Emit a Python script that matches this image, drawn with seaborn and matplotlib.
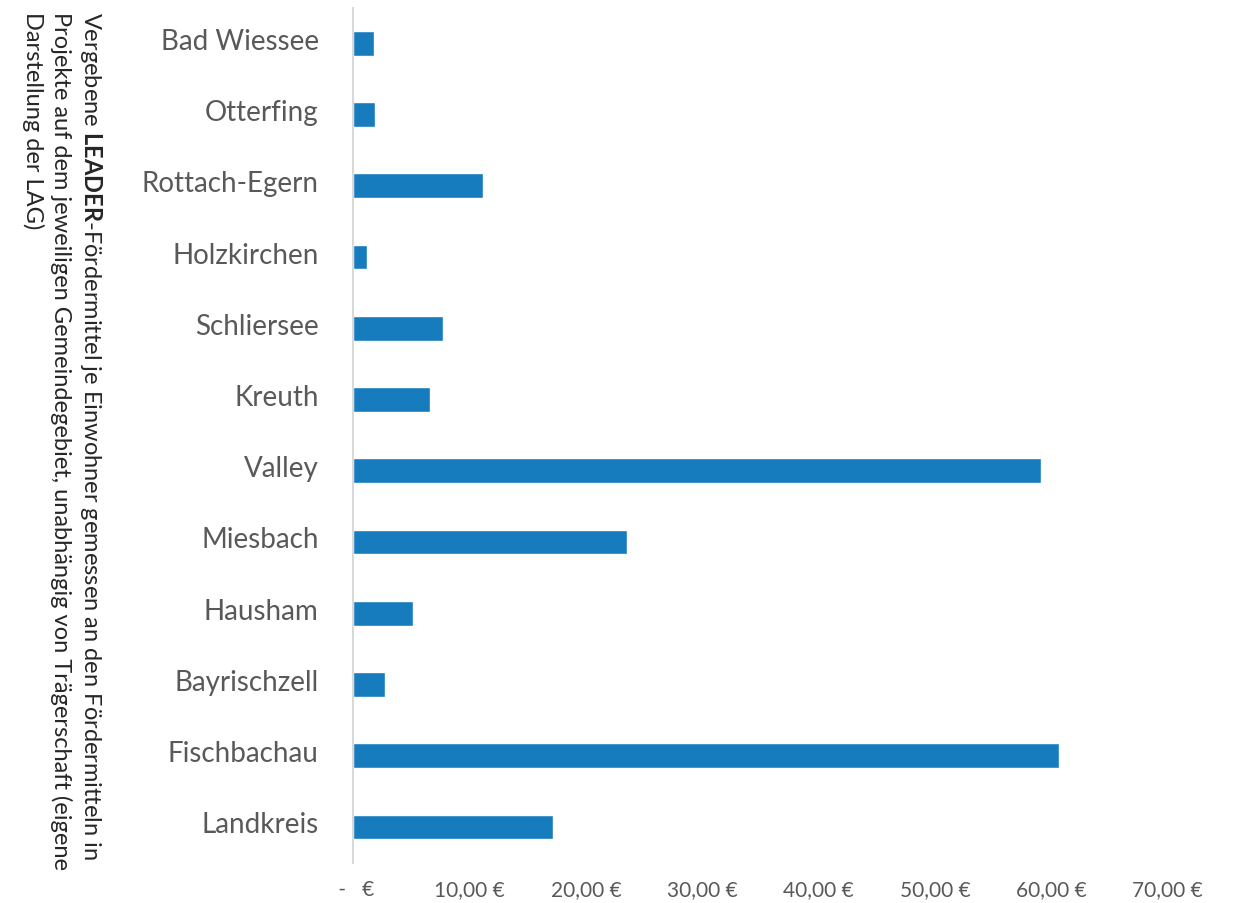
import matplotlib
matplotlib.use("Agg")
import matplotlib.pyplot as plt
import matplotlib.transforms as mtransforms
import seaborn as sns
import pandas as pd

# data (EUR per inhabitant)
gemeinden = ["Bad Wiessee", "Otterfing", "Rottach-Egern", "Holzkirchen", "Schliersee", "Kreuth",
             "Valley", "Miesbach", "Hausham", "Bayrischzell", "Fischbachau", "Landkreis"]
euro_je_einwohner = [1.76, 1.82, 11.16, 1.19, 7.72, 6.60, 59.14, 23.54, 5.09, 2.73, 60.64, 17.18]
x_ticks = [0, 10, 20, 30, 40, 50, 60, 70]

df = pd.DataFrame({"gemeinde": gemeinden, "wert": euro_je_einwohner})

sns.set_style("white")
plt.rcParams['font.family'] = ['Lato', 'DejaVu Sans']
plt.rcParams['mathtext.fontset'] = 'custom'
plt.rcParams['mathtext.rm'] = 'Lato'
plt.rcParams['mathtext.bf'] = 'Lato:bold'

fig = plt.figure(figsize=(12.35, 9.04), dpi=100)
ax = fig.add_axes([0.2862, 0.0447, 0.9453 - 0.2862, 0.9904 - 0.0447])

sns.barplot(data=df, x="wert", y="gemeinde", order=gemeinden, orient="h",
            color="#167CBE", width=0.35, saturation=1, ax=ax)

ax.set_xlim(0, 70)
ax.set_xticks(x_ticks)
ax.set_xticklabels([" -   €" if v == 0 else "{:,.2f} €".format(v).replace(".", ",") for v in x_ticks])
ax.tick_params(axis="x", length=0, pad=12, labelsize=15, labelcolor="#595959")
ax.tick_params(axis="y", length=0, pad=25, labelsize=20, labelcolor="#595959")
# category labels sit a little above the bar centre in the original
shift = mtransforms.ScaledTranslation(0, 5 / 100, fig.dpi_scale_trans)
for lbl in ax.get_yticklabels():
    lbl.set_transform(lbl.get_transform() + shift)
ax.set_xlabel("")
ax.set_ylabel("")
for s in ["top", "right", "bottom"]:
    ax.spines[s].set_visible(False)
ax.spines["left"].set_color("#d9d9d9")
ax.spines["left"].set_linewidth(1.5)
ax.grid(False)

label = ("Vergebene $\\mathbf{LEADER}$-Fördermittel je Einwohner gemessen an den Fördermitteln in\n"
         "Projekte auf dem jeweiligen Gemeindegebiet, unabhängig von Trägerschaft (eigene\n"
         "Darstellung der LAG)")
fig.text(0.051, 0.987, label, rotation=-90, ha="center", va="top", multialignment="left",
         fontsize=17, color="#262626", linespacing=1.3)

plt.savefig("out.png", dpi=100)
